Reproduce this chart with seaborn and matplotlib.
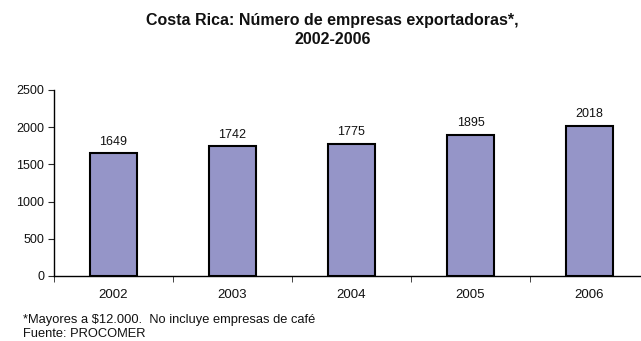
import numpy as np
import pandas as pd
import matplotlib
matplotlib.use("Agg")
from matplotlib import pyplot as plt
from matplotlib.ticker import FixedLocator
import seaborn as sns

years = ["2002", "2003", "2004", "2005", "2006"]
empresas = [1649, 1742, 1775, 1895, 2018]
y_ticks = [0, 500, 1000, 1500, 2000, 2500]

df = pd.DataFrame({"year": years, "empresas": empresas})

sns.set_style("white")
plt.rcParams["font.family"] = ["Liberation Sans", "DejaVu Sans"]

fig = plt.figure(figsize=(6.41, 3.41), dpi=100)
ax = fig.add_axes([54 / 641, 65 / 341, (641 - 54) / 641, 186 / 341])

sns.barplot(data=df, x="year", y="empresas", color="#9595c8", saturation=1,
            width=0.39, edgecolor="black", linewidth=1.5, ax=ax)

# value labels above bars
for i, v in enumerate(empresas):
    ax.text(i, v + 75, str(v), ha="center", va="bottom", fontsize=9, color="#111111")

ax.set_xlim(-0.5, (641 - 54) / 119 - 0.5)
ax.set_ylim(0, 2500)
ax.set_yticks(y_ticks)
ax.set_xlabel("")
ax.set_ylabel("")

# ticks between categories, like the original
ax.tick_params(axis="x", which="major", length=0, labelsize=9.5, pad=9, labelcolor="#111111")
ax.xaxis.set_minor_locator(FixedLocator(np.arange(-0.5, 5, 1)))
ax.tick_params(axis="x", which="minor", length=4, direction="out", bottom=True)
ax.tick_params(axis="y", length=4, direction="out", left=True, labelsize=9, pad=3,
               labelcolor="#111111")

sns.despine(ax=ax, top=True, right=True)
for s in ["left", "bottom"]:
    ax.spines[s].set_color("black")
    ax.spines[s].set_linewidth(1.0)

fig.text(0.519, 1 - 30 / 341, "Costa Rica: Número de empresas exportadoras*,\n2002-2006",
         ha="center", va="center", fontsize=11.5, fontweight="bold", linespacing=1.25,
         color="#111111")

fig.text(23 / 641, 1 - 320 / 341, "*Mayores a $12.000.  No incluye empresas de café",
         ha="left", va="center", fontsize=9.3, color="#111111")
fig.text(23 / 641, 1 - 334 / 341, "Fuente: PROCOMER",
         ha="left", va="center", fontsize=9.3, color="#111111")

fig.savefig("out.png", dpi=100)
